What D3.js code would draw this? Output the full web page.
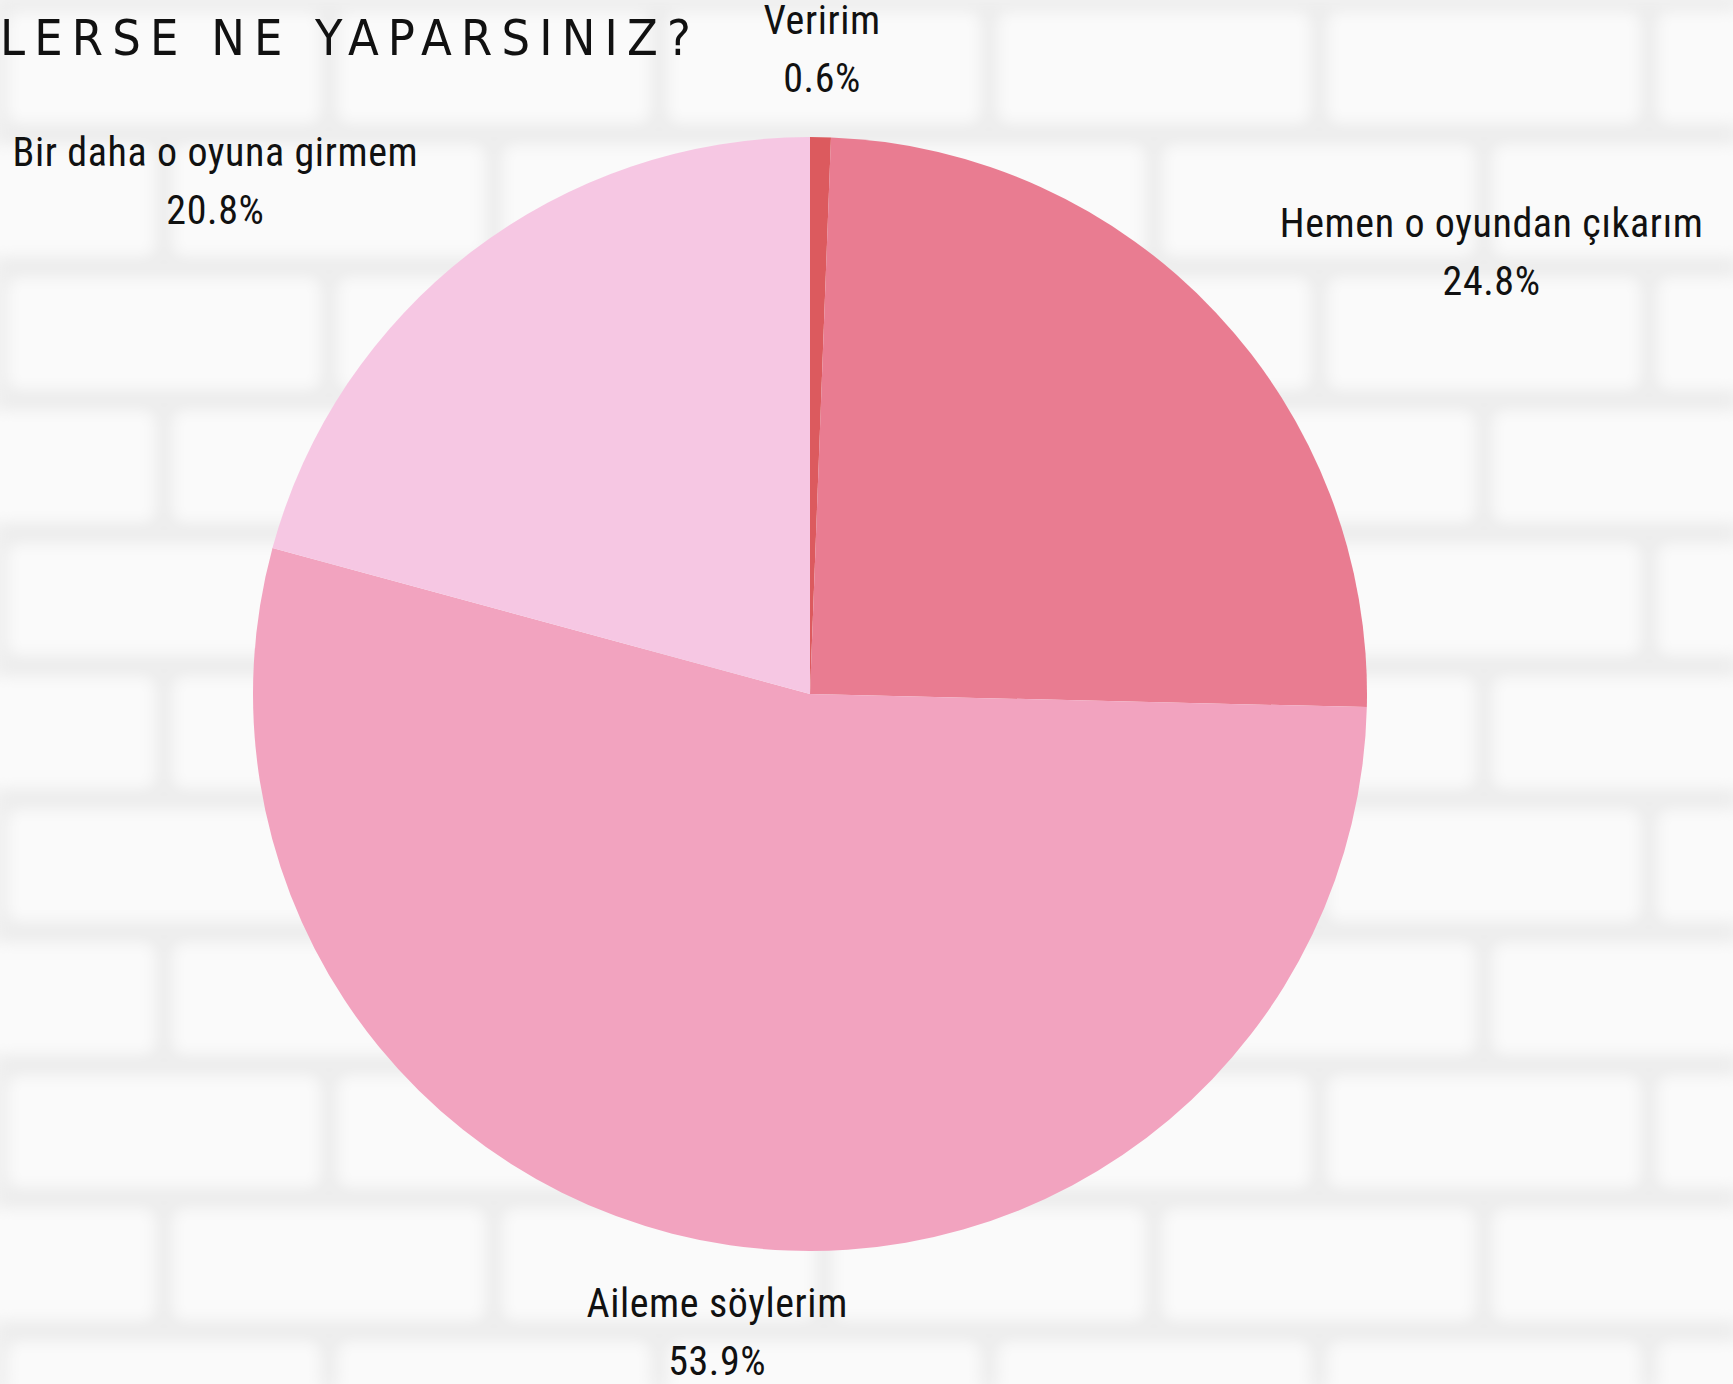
<!DOCTYPE html>
<html>
<head>
<meta charset="utf-8">
<script src="https://cdn.jsdelivr.net/npm/d3@7"></script>
<style>
  html, body { margin: 0; padding: 0; background: #f2f2f2; }
  svg { display: block; }
</style>
</head>
<body>
<svg id="chart" width="1733" height="1384"></svg>
<script>
// data
const categories = ["Veririm", "Hemen o oyundan çıkarım", "Aileme söylerim", "Bir daha o oyuna girmem"];
const values = [0.6, 24.8, 53.9, 20.8];
const sliceColors = ["#dc5a5e", "#e97c91", "#f2a3bf", "#f6c7e3"];
const titleText = "LERSE NE YAPARSINIZ?";

const width = 1733, height = 1384;
const cx = 810, cy = 694, radius = 557;
const labelRadius = 645;

const svg = d3.select("#chart");

// soft white brick wall in the back
function brickWall() {
  const defs = svg.append("defs");
  defs.append("filter").attr("id", "soft")
    .append("feGaussianBlur").attr("stdDeviation", 7);
  const g = svg.append("g").attr("filter", "url(#soft)");
  g.append("rect").attr("width", width).attr("height", height).attr("fill", "#ededed");
  const rowH = 133, brickW = 330;
  let rows = d3.range(-1, Math.ceil(height / rowH) + 1);
  rows.forEach((r) => {
    let off = (r % 2 === 0) ? 0 : -brickW / 2;
    for (let x = off - brickW; x < width + brickW; x += brickW) {
      g.append("rect")
        .attr("x", x + 8).attr("y", r * rowH + 12)
        .attr("width", brickW - 18).attr("height", rowH - 22)
        .attr("rx", 12)
        .attr("fill", "#fafafa");
    }
  });
}
brickWall();

// title (cut off on the left in the original)
svg.append("text")
  .attr("x", 0)
  .attr("y", 55)
  .attr("font-family", "'Liberation Sans Narrow', 'DejaVu Sans Condensed', sans-serif")
  .attr("font-size", 50)
  .attr("letter-spacing", 9.2)
  .attr("fill", "#111")
  .text(titleText);

let pie = d3.pie().sort(null).value(d => d);
let arc = d3.arc().innerRadius(0).outerRadius(radius);
let arcs = pie(values);

let g = svg.append("g").attr("transform", `translate(${cx},${cy})`);
g.selectAll("path")
  .data(arcs)
  .enter().append("path")
  .attr("d", arc)
  .attr("fill", (d, i) => sliceColors[i]);

// labels: name + percent, placed out from the slice middle
let lab = svg.append("g")
  .attr("font-family", "'Roboto Condensed', 'Liberation Sans Narrow', Roboto, sans-serif")
  .attr("font-size", 40)
  .attr("letter-spacing", 0.6)
  .attr("fill", "#111");

arcs.forEach((a, i) => {
  let mid = (a.startAngle + a.endAngle) / 2;
  let px = cx + labelRadius * Math.sin(mid);
  let py = cy - labelRadius * Math.cos(mid);
  let lines = [categories[i], values[i].toFixed(1) + "%"];
  let tg = lab.append("g");
  let texts = lines.map((t, k) => tg.append("text")
    .attr("text-anchor", "middle")
    .attr("dominant-baseline", "central")
    .attr("y", py + (k - 0.5) * 58)
    .text(t));
  let w = d3.max(texts, t => t.node().getComputedTextLength());
  let s = Math.sin(mid);
  let boxCenter = px;
  if (s > 0.3) boxCenter = px + w / 2;
  else if (s < -0.3) boxCenter = px - w / 2;
  texts.forEach(t => t.attr("x", boxCenter));
});
</script>
</body>
</html>
